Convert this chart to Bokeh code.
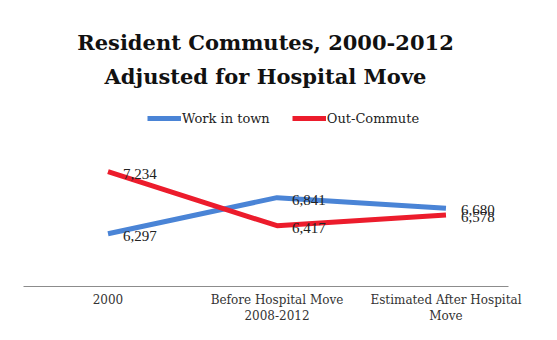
from bokeh.plotting import figure
from bokeh.models import ColumnDataSource, Range1d, Label, Legend, LegendItem, FixedTicker, LabelSet
from bokeh.embed import file_html
from bokeh.resources import INLINE

categories = ["2000", "Before Hospital Move\n2008-2012", "Estimated After Hospital\nMove"]
work_in_town = [6297, 6841, 6680]
out_commute = [7234, 6417, 6578]
xpos = [0, 1, 2]
title_lines = ["Resident Commutes, 2000-2012", "Adjusted for Hospital Move"]

def fmt(v):
    return f"{v:,}"

p = figure(width=541, height=326, output_backend="svg", toolbar_location=None,
           x_range=Range1d(-0.5, 2.37), y_range=Range1d(5500, 9816),
           min_border_left=23, min_border_right=33, min_border_top=0, min_border_bottom=30)
p.outline_line_color = None
p.grid.visible = False
p.yaxis.visible = False
p.background_fill_color = "white"
p.border_fill_color = "white"

p.xaxis.ticker = FixedTicker(ticks=xpos)
p.xaxis.major_label_overrides = {i: c for i, c in zip(xpos, categories)}
p.xaxis.axis_line_color = "#8c8c8c"
p.xaxis.major_tick_line_color = None
p.xaxis.minor_tick_line_color = None
p.xaxis.major_label_text_font = "DejaVu Serif"
p.xaxis.major_label_text_font_size = "12px"
p.xaxis.major_label_text_color = "#333333"
p.xaxis.major_label_standoff = 0

blue = "#4a84d6"
red = "#ec1c2c"
src_w = ColumnDataSource(dict(x=xpos, y=work_in_town, t=[fmt(v) for v in work_in_town]))
src_o = ColumnDataSource(dict(x=xpos, y=out_commute, t=[fmt(v) for v in out_commute]))
rw = p.line("x", "y", source=src_w, line_color=blue, line_width=5)
ro = p.line("x", "y", source=src_o, line_color=red, line_width=5)

for s in (src_w, src_o):
    p.add_layout(LabelSet(x="x", y="y", text="t", source=s, x_offset=15, y_offset=-2,
                          text_baseline="middle", text_font="Liberation Serif",
                          text_font_size="15px", text_color="#222222"))

legend = Legend(items=[LegendItem(label="Work in town", renderers=[rw]),
                       LegendItem(label="Out-Commute", renderers=[ro])],
                orientation="horizontal", location=(124, 158),
                label_text_font="DejaVu Serif", label_text_font_size="13px",
                label_text_color="#222222", glyph_width=34, label_standoff=1,
                spacing=22, border_line_color=None, background_fill_alpha=0,
                padding=0, margin=0)
p.add_layout(legend)

for ty, txt in zip([244, 210], title_lines):
    p.add_layout(Label(x=242, y=ty, x_units="screen", y_units="screen",
                       text=txt, text_align="center", text_baseline="middle",
                       text_font="DejaVu Serif", text_font_size="21px", text_font_style="bold",
                       text_color="#111111"))

open("out.html", "w").write(file_html(p, INLINE))
